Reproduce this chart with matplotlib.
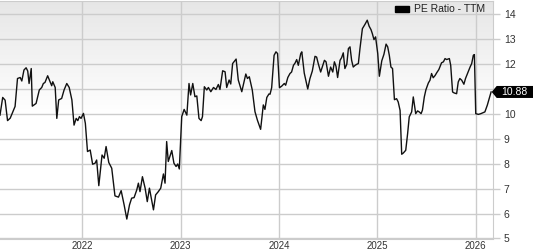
import numpy as np
import pandas as pd
import matplotlib
matplotlib.use("Agg")
import matplotlib.pyplot as plt
import matplotlib.dates as mdates
from matplotlib.patches import Patch, Polygon

# ========= 数据 =========
dates = [
    "2021-03-01", "2021-03-11", "2021-03-20", "2021-03-29", "2021-04-08", "2021-04-26",
    "2021-05-05", "2021-05-15", "2021-05-21", "2021-05-29", "2021-06-06", "2021-06-12",
    "2021-06-17", "2021-06-25", "2021-06-29", "2021-07-13", "2021-07-25", "2021-08-03",
    "2021-08-09", "2021-08-15", "2021-08-25", "2021-09-03", "2021-09-09", "2021-09-13",
    "2021-09-22", "2021-09-28", "2021-10-05", "2021-10-16", "2021-10-25", "2021-11-04",
    "2021-11-13", "2021-11-23", "2021-12-01", "2021-12-09", "2021-12-15", "2021-12-21",
    "2021-12-27", "2022-01-05", "2022-01-12", "2022-01-20", "2022-01-30", "2022-02-08",
    "2022-02-17", "2022-02-23", "2022-03-03", "2022-03-15", "2022-03-23", "2022-03-30",
    "2022-04-09", "2022-04-20", "2022-05-02", "2022-05-15", "2022-05-25", "2022-06-05",
    "2022-06-15", "2022-06-25", "2022-07-03", "2022-07-12", "2022-07-22", "2022-07-28",
    "2022-08-03", "2022-08-12", "2022-08-22", "2022-08-30", "2022-09-07", "2022-09-13",
    "2022-09-22", "2022-09-30", "2022-10-10", "2022-10-19", "2022-10-29", "2022-11-04",
    "2022-11-10", "2022-11-16", "2022-11-29", "2022-12-07", "2022-12-15", "2022-12-21",
    "2022-12-27", "2023-01-05", "2023-01-14", "2023-01-24", "2023-02-01", "2023-02-07",
    "2023-02-15", "2023-02-23", "2023-03-02", "2023-03-10", "2023-03-18", "2023-03-23",
    "2023-03-30", "2023-04-08", "2023-04-14", "2023-04-23", "2023-05-03", "2023-05-12",
    "2023-05-21", "2023-05-27", "2023-06-06", "2023-06-15", "2023-06-21", "2023-06-30",
    "2023-07-06", "2023-07-13", "2023-07-26", "2023-08-03", "2023-08-16", "2023-08-31",
    "2023-09-06", "2023-09-13", "2023-09-24", "2023-10-04", "2023-10-13", "2023-10-25",
    "2023-11-04", "2023-11-10", "2023-11-17", "2023-11-25", "2023-11-29", "2023-12-05",
    "2023-12-14", "2023-12-21", "2023-12-27", "2024-01-03", "2024-01-11", "2024-01-21",
    "2024-01-26", "2024-02-03", "2024-02-11", "2024-02-17", "2024-02-24", "2024-03-01",
    "2024-03-07", "2024-03-13", "2024-03-22", "2024-03-26", "2024-04-04", "2024-04-17",
    "2024-04-25", "2024-05-04", "2024-05-14", "2024-05-20", "2024-05-26", "2024-06-04",
    "2024-06-10", "2024-06-18", "2024-06-24", "2024-07-03", "2024-07-11", "2024-07-19",
    "2024-07-25", "2024-07-31", "2024-08-06", "2024-08-15", "2024-08-21", "2024-08-27",
    "2024-09-02", "2024-09-09", "2024-09-15", "2024-09-21", "2024-09-27", "2024-10-03",
    "2024-10-10", "2024-10-16", "2024-10-22", "2024-10-28", "2024-11-06", "2024-11-16",
    "2024-11-24", "2024-12-01", "2024-12-08", "2024-12-13", "2024-12-19", "2024-12-25",
    "2025-01-02", "2025-01-08", "2025-01-17", "2025-01-25", "2025-02-02", "2025-02-08",
    "2025-02-14", "2025-02-20", "2025-02-26", "2025-03-05", "2025-03-13", "2025-03-19",
    "2025-03-26", "2025-04-01", "2025-04-07", "2025-04-16", "2025-04-23", "2025-04-29",
    "2025-05-08", "2025-05-14", "2025-05-23", "2025-05-30", "2025-06-05", "2025-06-12",
    "2025-06-17", "2025-06-24", "2025-06-30", "2025-07-09", "2025-07-15", "2025-07-21",
    "2025-07-27", "2025-08-03", "2025-08-09", "2025-08-17", "2025-08-27", "2025-09-03",
    "2025-09-09", "2025-09-15", "2025-09-25", "2025-09-30", "2025-10-07", "2025-10-13",
    "2025-10-22", "2025-10-28", "2025-11-03", "2025-11-10", "2025-11-18", "2025-11-24",
    "2025-12-02", "2025-12-11", "2025-12-17", "2025-12-23", "2025-12-27", "2026-01-01",
    "2026-01-11", "2026-01-20", "2026-01-29", "2026-02-04", "2026-02-13", "2026-02-20",
    "2026-02-27",
]

pe_ratio = [
    9.95, 10.66, 10.55, 9.73, 9.83, 10.30,
    11.42, 11.46, 11.32, 11.76, 11.85, 11.72,
    11.22, 11.82, 10.31, 10.42, 10.96, 11.06,
    11.22, 11.26, 11.53, 11.29, 11.13, 11.29,
    11.06, 9.82, 10.56, 10.62, 10.96, 11.22,
    11.06, 10.56, 9.55, 9.82, 9.73, 9.89,
    9.82, 10.02, 9.62, 8.49, 8.55, 7.98,
    8.02, 8.15, 7.12, 8.35, 8.22, 8.69,
    8.05, 7.82, 6.71, 6.66, 6.92, 6.35,
    5.78, 6.35, 6.62, 6.64, 6.95, 7.22,
    6.88, 7.48, 7.02, 6.48, 7.02, 6.68,
    6.15, 6.75, 6.88, 7.02, 7.59, 7.22,
    8.89, 8.09, 8.53, 8.02, 7.89, 7.99,
    7.79, 9.89, 10.18, 9.95, 11.22, 10.76,
    11.22, 10.69, 10.72, 9.82, 9.73, 9.89,
    11.09, 10.96, 11.06, 10.89, 11.06, 10.98,
    11.18, 10.98, 11.73, 11.69, 11.06, 11.36,
    11.20, 12.02, 12.20, 11.36, 10.89, 11.60,
    11.42, 11.49, 10.96, 10.09, 9.75, 9.38,
    10.36, 10.18, 10.66, 10.80, 10.79, 11.05,
    12.35, 12.49, 12.42, 11.05, 11.11, 11.22,
    11.15, 11.46, 11.62, 11.68, 11.95, 12.04,
    12.18, 11.95, 12.42, 12.49, 11.64, 11.00,
    11.41, 11.72, 12.31, 12.28, 12.02, 11.68,
    11.88, 12.15, 12.09, 11.51, 11.88, 11.68,
    12.09, 11.91, 11.46, 12.15, 12.26, 12.45,
    11.82, 11.99, 12.62, 12.69, 12.15, 11.88,
    11.95, 11.99, 12.02, 12.62, 13.42, 13.60,
    13.76, 13.52, 13.38, 13.22, 12.98, 13.09,
    12.42, 11.51, 12.13, 12.39, 12.80, 12.69,
    12.35, 11.88, 11.82, 10.57, 10.61, 10.48,
    10.14, 8.38, 8.43, 8.54, 9.21, 9.88,
    10.08, 10.68, 10.01, 10.12, 10.08, 10.01,
    10.15, 10.68, 10.97, 11.24, 11.35, 11.62,
    11.45, 11.54, 11.65, 11.78, 12.05, 12.09,
    12.22, 12.18, 12.22, 11.95, 10.88, 10.84,
    10.81, 11.28, 11.42, 11.35, 11.19, 11.42,
    11.64, 11.88, 12.02, 12.35, 12.38, 10.01,
    9.98, 10.01, 10.05, 10.08, 10.35, 10.62,
    10.88,
]

year_ticks = ["2022-01-01", "2023-01-01", "2024-01-01", "2025-01-01", "2026-01-01"]
year_labels = ["2022", "2023", "2024", "2025", "2026"]
y_ticks = [5, 6, 7, 8, 9, 10, 11, 12, 13, 14]
y_labels = ["5", "6", "7", "8", "9", "10", "", "12", "13", "14"]  # 11 sits under the value tag
legend_label = "PE Ratio - TTM"

# ========= 画图 =========
plt.rcParams["font.family"] = ["Liberation Sans", "DejaVu Sans"]

W, H = 533, 250
fig = plt.figure(figsize=(W / 100, H / 100), dpi=100)
ax_left, ax_right, ax_top, ax_bot = 0.0, 492.7, 0.5, 238.5
ax = fig.add_axes([ax_left / W, 1 - ax_bot / H, (ax_right - ax_left) / W, (ax_bot - ax_top) / H])

x = pd.to_datetime(dates)
x0 = pd.Timestamp("2021-03-01")
x1 = pd.Timestamp("2026-03-05")
y0, y1 = 5, 14.55

# gradient background: grey at top fading to white around 10
grad = np.linspace(0, 1, 256).reshape(-1, 1)
cmap = matplotlib.colors.LinearSegmentedColormap.from_list("bg", ["#ffffff", "#e6e6e6"])
ax.imshow(grad, aspect="auto", cmap=cmap, origin="lower",
          extent=[mdates.date2num(x0), mdates.date2num(x1), 10, y1], zorder=0)

grid_c = "#cccccc"
for yt in y_ticks:
    ax.axhline(yt, color=grid_c, lw=1.0, zorder=1)
for xt in pd.to_datetime(year_ticks):
    ax.axvline(xt, color=grid_c, lw=1.0, zorder=1)

ax.plot(x, pe_ratio, color="#111111", lw=1.0, zorder=3)

ax.set_xlim(x0, x1)
ax.set_ylim(y0, y1)

ax.set_xticks(pd.to_datetime(year_ticks))
ax.set_xticklabels(year_labels)
ax.set_yticks(y_ticks)
ax.set_yticklabels(y_labels)
ax.yaxis.tick_right()
ax.tick_params(axis="y", length=5, width=1, color=grid_c, pad=3, labelsize=7.5, labelcolor="#333333")
ax.tick_params(axis="x", length=0, pad=1.5, labelsize=7, labelcolor="#333333")

for side in ["top", "right", "bottom"]:
    ax.spines[side].set_color(grid_c)
ax.spines["left"].set_visible(False)

# legend
handle = Patch(facecolor="black", edgecolor="black")
leg = ax.legend([handle], [legend_label], loc="upper right", bbox_to_anchor=(0.997, 1.01),
                frameon=False, fontsize=7.5, handlelength=1.3, handleheight=0.5,
                handletextpad=0.5, borderaxespad=0.2)
for t in leg.get_texts():
    t.set_color("#222222")

# last value marker
last = pe_ratio[-1]
fig.canvas.draw()
yc = ax.transData.transform((0, last))[1]
xr = ax.transAxes.transform((1, 0))[0]
hh = 6.0
pts = [(xr - 1, yc), (xr + 4, yc + hh), (W, yc + hh), (W, yc - hh), (xr + 4, yc - hh)]
poly = Polygon([(px / W, py / H) for px, py in pts], closed=True, transform=fig.transFigure,
               facecolor="black", edgecolor="none", zorder=5)
fig.patches.append(poly)
fig.text((xr + 9) / W, yc / H, f"{last:.2f}", color="white", fontsize=7.5,
         va="center", ha="left", zorder=6)

fig.savefig("out.png", dpi=100)
